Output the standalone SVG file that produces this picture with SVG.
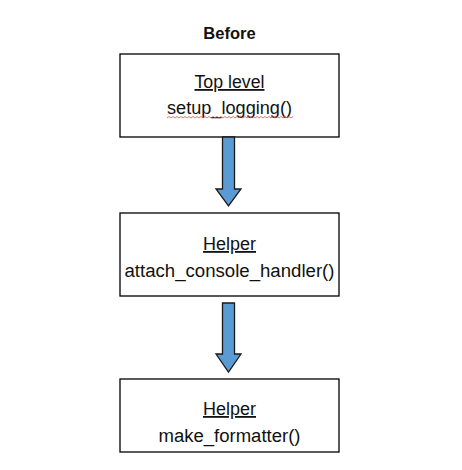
<svg xmlns="http://www.w3.org/2000/svg" width="462" height="470" viewBox="0 0 462 470">
  <style>
    .box { fill: #ffffff; stroke: #000000; stroke-width: 1.3; }
    .t { font-family: "Liberation Sans", Arial, sans-serif; font-size: 18px; fill: #111111; text-anchor: middle; }
    .u { text-decoration: underline; }
    .title { font-family: "Liberation Sans", Arial, sans-serif; font-size: 16.5px; font-weight: bold; fill: #111111; text-anchor: middle; }
    .arrow { fill: #5B9BD5; stroke: #1a1a1a; stroke-width: 1.3; stroke-linejoin: miter; }
    .squig { fill: none; stroke: #e05050; stroke-width: 0.8; }
  </style>
  <rect width="462" height="470" fill="#ffffff"/>
  <text class="title" x="229.5" y="39">Before</text>

  <g id="node-top">
    <rect class="box" x="120" y="54" width="219" height="83"/>
    <text class="t u" x="229.5" y="88" textLength="70" lengthAdjust="spacingAndGlyphs">Top level</text>
    <text class="t" x="229.5" y="114" textLength="125" lengthAdjust="spacingAndGlyphs">setup_logging()</text>
    <path class="squig" d="M167,118 l2,-1.5 l2,1.5 l2,-1.5 l2,1.5 l2,-1.5 l2,1.5 l2,-1.5 l2,1.5 l2,-1.5 l2,1.5 l2,-1.5 l2,1.5 l2,-1.5 l2,1.5 l2,-1.5 l2,1.5 l2,-1.5 l2,1.5 l2,-1.5 l2,1.5 l2,-1.5 l2,1.5 l2,-1.5 l2,1.5 l2,-1.5 l2,1.5 l2,-1.5 l2,1.5 l2,-1.5 l2,1.5 l2,-1.5 l2,1.5 l2,-1.5 l2,1.5 l2,-1.5 l2,1.5 l2,-1.5 l2,1.5 l2,-1.5 l2,1.5 l2,-1.5 l2,1.5 l2,-1.5 l2,1.5 l2,-1.5 l2,1.5 l2,-1.5 l2,1.5 l2,-1.5 l2,1.5 l2,-1.5 l2,1.5 l2,-1.5 l2,1.5 l2,-1.5 l2,1.5 l2,-1.5 l2,1.5 l2,-1.5 l2,1.5 l2,-1.5 l2,1.5 l2,-1.5"/>
  </g>

  <g id="node-helper1">
    <rect class="box" x="120" y="213" width="219" height="83"/>
    <text class="t u" x="229.5" y="250" textLength="53" lengthAdjust="spacingAndGlyphs">Helper</text>
    <text class="t" x="229.5" y="277" textLength="210" lengthAdjust="spacingAndGlyphs">attach_console_handler()</text>
  </g>

  <g id="node-helper2">
    <rect class="box" x="120" y="379" width="219" height="73"/>
    <text class="t u" x="229.5" y="415" textLength="53" lengthAdjust="spacingAndGlyphs">Helper</text>
    <text class="t" x="229.5" y="442" textLength="142" lengthAdjust="spacingAndGlyphs">make_formatter()</text>
  </g>

  <g id="connectors">
    <polygon class="arrow" points="222.5,137 234.5,137 234.5,189 241,189 228.5,206 216,189 222.5,189"/>
    <polygon class="arrow" points="222.5,303 234.5,303 234.5,354 241,354 228.5,372 216,354 222.5,354"/>
  </g>
</svg>
